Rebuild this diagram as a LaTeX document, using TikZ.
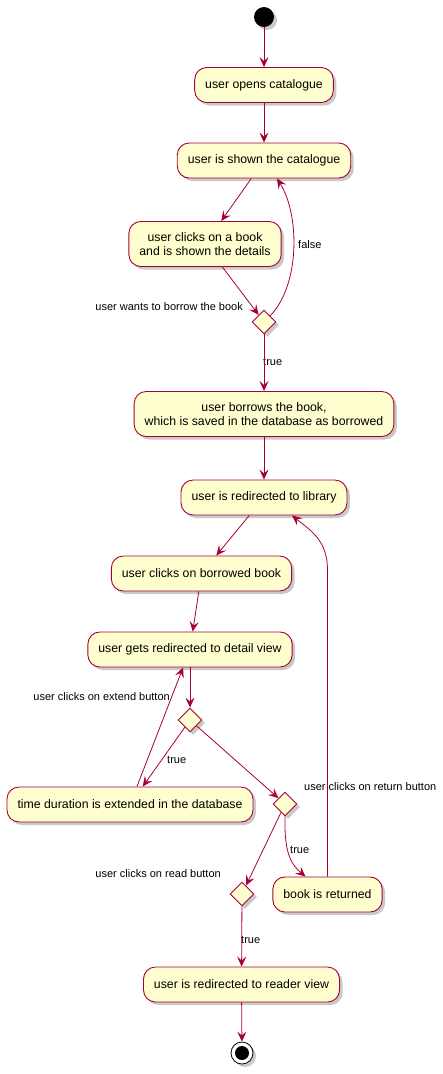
\documentclass[tikz,border=0pt]{standalone}
\usepackage{fontspec}
\setmainfont{Liberation Sans}
\usetikzlibrary{shapes.geometric,arrows.meta,shadows,calc}
\definecolor{umlred}{HTML}{A80036}
\definecolor{umlfill}{HTML}{FEFECE}
\begin{document}
\begin{tikzpicture}[x=1pt,y=1pt,
 shade/.style={drop shadow={shadow xshift=3pt,shadow yshift=-3pt,opacity=0.35,fill=black!60}},
 act/.style={draw=umlred,fill=umlfill,line width=0.9pt,rounded corners=12pt,shade,
  inner xsep=10.5pt,inner ysep=11pt,minimum height=35pt,align=center,font=\fontsize{12.3}{14}\selectfont},
 choice/.style={diamond,draw=umlred,fill=umlfill,line width=0.9pt,shade,inner sep=0pt,
  minimum width=24pt,minimum height=24pt},
 lbl/.style={inner sep=0pt,font=\fontsize{11}{13}\selectfont},
 flow/.style={draw=umlred,line width=0.8pt,-{Stealth[length=10pt,width=9pt,inset=4pt]}},
 startdot/.style={circle,fill=black,minimum size=20pt,inner sep=0pt,shade},
 enddot/.style={circle,draw=black,fill=white,line width=0.8pt,minimum size=22pt,inner sep=0pt,shade}]
 \fill[white](0,0) rectangle (443,-1074);
 \useasboundingbox (0,0) rectangle (443,-1074);
 \node[startdot] (start) at (264,-17) {};
 \node[act] (n1) at (264,-85) {user opens catalogue};
 \node[act] (n2) at (264,-160.5) {user is shown the catalogue};
 \node[act] (n3) at (205,-244) {user clicks on a book\\ and is shown the details};
 \node[choice] (d1) at (264,-322) {};
 \node[act] (n4) at (264,-414) {user borrows the book,\\which is saved in the database as borrowed};
 \node[act] (n5) at (264,-497.5) {user is redirected to library};
 \node[act] (n6) at (201.5,-573.5) {user clicks on borrowed book};
 \node[act] (n7) at (190,-649.5) {user gets redirected to detail view};
 \node[choice] (d2) at (190,-720) {};
 \node[act] (n8) at (130,-804.5) {time duration is extended in the database};
 \node[choice] (d3) at (285,-804) {};
 \node[act] (n9) at (327.5,-894.5) {book is returned};
 \node[choice] (d4) at (242,-894) {};
 \node[act] (n10) at (241.5,-984.5) {user is redirected to reader view};
 \node[enddot] (stop) at (242,-1053) {};
 \fill (stop.center) circle (7);
 % labels
 \node[lbl,anchor=east] (l1) at (243,-307) {user wants to borrow the book};
 \node[lbl,anchor=west] (l2) at (298,-245) {false};
 \node[lbl,anchor=west] (l3) at (263,-362) {true};
 \node[lbl,anchor=east] (l4) at (170,-697) {user clicks on extend button};
 \node[lbl,anchor=west] (l5) at (167,-760) {true};
 \node[lbl,anchor=west] (l6) at (304,-787) {user clicks on return button};
 \node[lbl,anchor=west] (l7) at (290,-850) {true};
 \node[lbl,anchor=east] (l8) at (221,-874) {user clicks on read button};
 \node[lbl,anchor=west] (l9) at (241,-940) {true};
 % flows
 \draw[flow] (start) -- (n1);
 \draw[flow] (n1) -- (n2);
 \draw[flow] (n2) -- (n3);
 \draw[flow] (n3) -- (d1);
 \draw[flow] (d1.north east) .. controls (300,-285) and (300,-215) .. ($(n2.south)+(13,0)$);
 \draw[flow] (d1) -- (n4);
 \draw[flow] (n4) -- (n5);
 \draw[flow] (n5) -- (n6);
 \draw[flow] (n6) -- (n7);
 \draw[flow] (n7) -- (d2);
 \draw[flow] (d2) -- (n8);
 \draw[flow] (n8) -- (n7);
 \draw[flow] (d2) -- (d3);
 \draw[flow] (d3.south) .. controls (284,-855) and (292,-865) .. ($(n9.north)+(-22,0)$);
 \draw[flow] (n9.north) -- (327.5,-570) .. controls (327.5,-540) and (310,-530) .. ($(n5.south)+(28,0)$);
 \draw[flow] (d3) -- (d4);
 \draw[flow] (d4) -- (n10);
 \draw[flow] (n10) -- (stop);
\end{tikzpicture}
\end{document}
